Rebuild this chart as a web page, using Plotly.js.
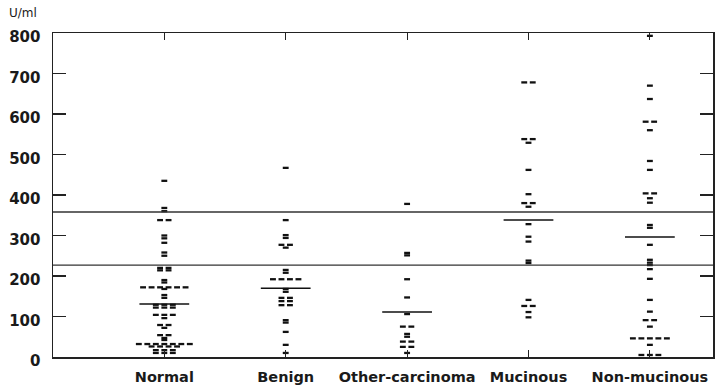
<!DOCTYPE html>
<html><head><meta charset="utf-8">
<script src="https://cdn.plot.ly/plotly-3.0.1.min.js"></script>
<style>html,body{margin:0;padding:0;background:#fff}#chart{width:718px;height:387px}</style>
</head><body><div id="chart"></div>
<script>
const categories = ['Normal', 'Benign', 'Other-carcinoma', 'Mucinous', 'Non-mucinous'];
const normal = [435, 368, 360, 338, 338, 300, 293, 282, 258, 250, 220, 220, 214, 214, 190, 184,
  172, 172, 172, 172, 172, 172, 168, 153, 146, 129, 129, 129, 122, 122, 122, 104, 104, 104, 96,
  79, 79, 72, 54, 54, 47, 42, 32, 32, 32, 32, 32, 32, 32, 26, 26, 26, 26, 17, 17, 17, 10, 10, 10];
const benign = [467, 338, 301, 294, 277, 277, 270, 215, 208, 192, 192, 192, 192, 168, 161,
  146, 146, 138, 138, 128, 128, 91, 85, 62, 30, 10];
const otherCarcinoma = [378, 257, 251, 192, 147, 106, 75, 75, 57, 50, 38, 38, 25, 25, 10];
const mucinous = [678, 678, 538, 538, 529, 462, 402, 380, 380, 371, 328, 297, 285, 238, 232,
  141, 126, 126, 111, 98];
const nonMucinous = [793, 670, 637, 581, 581, 560, 484, 462, 404, 404, 392, 381, 326, 319, 277,
  240, 233, 227, 217, 193, 141, 112, 91, 91, 75, 46, 46, 46, 46, 46, 30, 5, 5, 5];
const groupMeans = [131, 170, 111, 338, 296];
const cutoffs = [358, 227];
const yTickVals = [0, 100, 200, 300, 400, 500, 600, 700, 800];
const yUnit = 'U/ml';

const groups = [normal, benign, otherCarcinoma, mucinous, nonMucinous];

// spread equal values horizontally around the category centre
function spread(values, centre) {
  const step = 0.07;
  const counts = {}, seen = {};
  values.forEach(v => counts[v] = (counts[v] || 0) + 1);
  return values.map(v => {
    const j = seen[v] = (seen[v] === undefined ? 0 : seen[v] + 1);
    return centre + (j - (counts[v] - 1) / 2) * step;
  });
}

const traces = groups.map((vals, i) => ({
  type: 'scatter', mode: 'markers',
  x: spread(vals, i), y: vals,
  marker: {symbol: 'line-ew', size: 4.2, color: '#111', line: {color: '#111', width: 2.3}},
  hoverinfo: 'skip', showlegend: false
}));

const shapes = [];
cutoffs.forEach(c => shapes.push({type: 'line', xref: 'paper', yref: 'y', x0: 0, x1: 1, y0: c, y1: c,
  line: {color: '#333', width: 1.3}}));
groupMeans.forEach((m, i) => shapes.push({type: 'line', xref: 'x', yref: 'y', x0: i - 0.205, x1: i + 0.205,
  y0: m, y1: m, line: {color: '#111', width: 1.5}}));

const layout = {
  width: 718, height: 387,
  margin: {l: 53, r: 5, t: 33, b: 30},
  paper_bgcolor: '#fff', plot_bgcolor: '#fff',
  showlegend: false,
  font: {family: 'DejaVu Sans, Arial, sans-serif', color: '#1a1a1a'},
  xaxis: {
    range: [-0.917, 4.52], tickvals: [0, 1, 2, 3, 4], ticktext: categories,
    showgrid: false, zeroline: false, showline: true, linecolor: '#222', linewidth: 1.5,
    mirror: 'ticks', ticks: 'inside', ticklen: 7, tickcolor: '#222', tickwidth: 1.2,
    tickfont: {family: 'DejaVu Sans, Arial, sans-serif', size: 14.5, weight: 'bold', color: '#1a1a1a'},
    ticklabelstandoff: 6
  },
  yaxis: {
    range: [0, 800], tickvals: yTickVals,
    showgrid: false, zeroline: false, showline: true, linecolor: '#222', linewidth: 1.5,
    mirror: 'ticks', ticks: 'inside', ticklen: 13, tickcolor: '#222', tickwidth: 1.2,
    tickfont: {family: 'DejaVu Sans, Arial, sans-serif', size: 15, weight: 'bold', color: '#1a1a1a'},
    ticklabelstandoff: 8, ticklabelshift: 4
  },
  shapes: shapes,
  annotations: [{text: yUnit, xref: 'paper', yref: 'paper', x: 0, y: 1, xshift: -46, yshift: 20,
    xanchor: 'left', yanchor: 'middle', showarrow: false,
    font: {family: 'DejaVu Sans, Arial, sans-serif', size: 12, color: '#1a1a1a'}}]
};

Plotly.newPlot('chart', traces, layout, {displayModeBar: false, staticPlot: true});
</script></body></html>
